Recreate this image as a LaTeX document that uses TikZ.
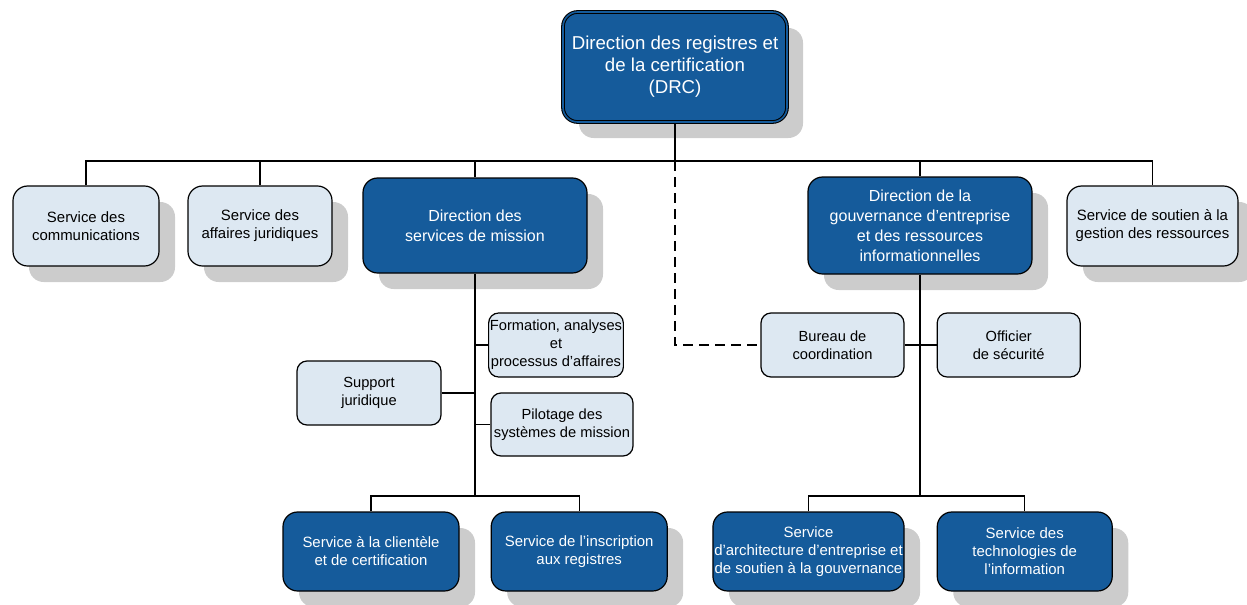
\documentclass[tikz,border=0pt]{standalone}
\usepackage{fontspec}
\setmainfont{Liberation Sans}
\usetikzlibrary{positioning,shadows}
\definecolor{drcblue}{RGB}{21,91,155}
\definecolor{drclight}{RGB}{221,232,242}
\definecolor{drcshade}{RGB}{204,204,204}
\tikzstyle{dbox}=[rectangle, rounded corners=11pt, draw=black, line width=0.9pt,
                  fill=drcblue, text=white, align=center, inner sep=1pt,
                  drop shadow={shadow xshift=12pt, shadow yshift=-12pt, fill=drcshade, opacity=1}]
\tikzstyle{lbox}=[dbox, fill=drclight, text=black, font=\fontsize{11.2}{13.5}\selectfont]
\tikzstyle{sbox}=[rectangle, rounded corners=7.5pt, draw=black, line width=0.9pt,
                  fill=drclight, align=center, inner sep=1pt, font=\fontsize{11}{13.5}\selectfont]
\tikzstyle{pline}=[-, line width=0.9pt]
\tikzstyle{dline}=[pline, dash pattern=on 7.5pt off 4.5pt]

\begin{document}
\begin{tikzpicture}[x=0.75pt, y=-0.75pt, node distance=0mm]
\useasboundingbox (0,0) rectangle (1247,604);

% top
\node (DRC) [dbox, line width=0.8pt, double=drcblue, double distance=1.2pt,
 minimum width=168pt, minimum height=82.5pt, font=\fontsize{14}{16.5}\selectfont
] at (675,67) {Direction des registres et\\de la certification\\(DRC)};

% second row
\node (COMM) [lbox, minimum width=109.5pt, minimum height=60pt
] at (86,226) {Service des\\communications};
\node (AFFJ) [lbox, minimum width=108pt, minimum height=60pt
] at (260,226) {Service des\\affaires juridiques};
\node (DSM) [dbox, minimum width=168pt, minimum height=71.25pt, font=\fontsize{12}{15}\selectfont
] at (475,225.5) {Direction des\\services de mission};
\node (DGE) [dbox, minimum width=168pt, minimum height=72.75pt, font=\fontsize{12}{15}\selectfont
] at (920,225.5) {Direction de la\\gouvernance d’entreprise\\et des ressources\\informationnelles};
\node (SSGR) [lbox, minimum width=128.25pt, minimum height=60pt
] at (1152.5,226) {Service de soutien à la\\gestion des ressources};

% staff boxes
\node (FORM) [sbox, minimum width=100.5pt, minimum height=48pt
] at (556,345) {Formation, analyses\\et\\processus d’affaires};
\node (PILOT) [sbox, minimum width=106.5pt, minimum height=47.25pt
] at (562,424.5) {Pilotage des\\systèmes de mission};
\node (SUPP) [sbox, minimum width=108pt, minimum height=48pt
] at (369,393) {Support\\juridique};
\node (BUREAU) [sbox, minimum width=107.25pt, minimum height=48pt
] at (832.5,345) {Bureau de\\coordination};
\node (OFFIC) [sbox, minimum width=107.25pt, minimum height=48pt,
 right=24pt of BUREAU] {Officier\\de sécurité};

% bottom row
\node (CLIENT) [dbox, minimum width=132pt, minimum height=59.25pt, font=\fontsize{11.2}{13.5}\selectfont
] at (371,551.5) {Service à la clientèle\\et de certification};
\node (INSCR) [dbox, minimum width=132pt, minimum height=59.25pt, font=\fontsize{11.2}{13.5}\selectfont,
 right=23.25pt of CLIENT] {Service de l’inscription\\aux registres};
\node (ARCH) [dbox, minimum width=143.25pt, minimum height=59.25pt, font=\fontsize{11.2}{13.5}\selectfont
] at (808.5,551.5) {Service\\d’architecture d’entreprise et\\de soutien à la gouvernance};
\node (TECH) [dbox, minimum width=131.25pt, minimum height=59.25pt, font=\fontsize{11.2}{13.5}\selectfont,
 right=24pt of ARCH] {Service des\\technologies de\\l’information};

\coordinate (BUS) at (675,161);
\coordinate (MBUS) at (475,496);
\coordinate (GBUS) at (920,496);

 \draw[pline]   (COMM.north) |- (BUS) -- (DRC.south) ;
 \draw[pline]   (AFFJ.north) |- (BUS) ;
 \draw[pline]   (DSM.north) |- (BUS) ;
 \draw[pline]   (DGE.north) |- (BUS) ;
 \draw[pline]   (SSGR.north) |- (BUS) ;
 \draw[dline]   (BUS) |- (BUREAU.west) ;

 \draw[pline]   (DSM.south) -- (MBUS) ;
 \draw[pline]   (FORM.west) -- (FORM.west -| DSM.south) ;
 \draw[pline]   (PILOT.west) -- (PILOT.west -| DSM.south) ;
 \draw[pline]   (SUPP.east) -- (SUPP.east -| DSM.south) ;
 \draw[pline]   (CLIENT.north) |- (MBUS) -| (INSCR.north) ;

 \draw[pline]   (DGE.south) -- (GBUS) ;
 \draw[pline]   (BUREAU.east) -- (OFFIC.west) ;
 \draw[pline]   (ARCH.north) |- (GBUS) -| (TECH.north) ;

\end{tikzpicture}
\end{document}
